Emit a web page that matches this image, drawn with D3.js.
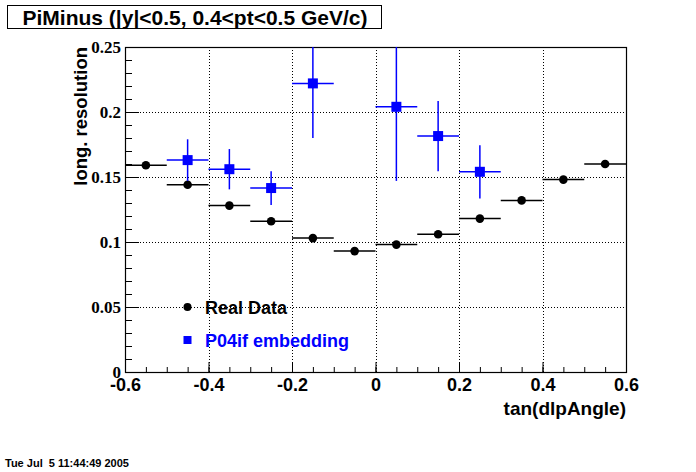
<!DOCTYPE html>
<html><head><meta charset="utf-8">
<script src="https://cdn.jsdelivr.net/npm/d3@7"></script>
<style>body{margin:0;background:#fff}svg{display:block}</style>
</head><body><svg id="c" width="696" height="472"></svg>
<script>
const binCenters = [-0.55,-0.45,-0.35,-0.25,-0.15,-0.05,0.05,0.15,0.25,0.35,0.45,0.55];
const binHalfWidth = 0.05;
const realValues = [0.159,0.144,0.128,0.116,0.103,0.093,0.098,0.106,0.118,0.132,0.148,0.160];
const realErrors = [0.002,0.002,0.002,0.002,0.002,0.0015,0.0015,0.002,0.002,0.002,0.002,0.002];
const embCenters = [-0.45,-0.35,-0.25,-0.15,0.05,0.15,0.25];
const embValues = [0.163,0.156,0.1415,0.222,0.204,0.1815,0.154];
const embErrors = [0.016,0.0155,0.013,0.042,0.057,0.027,0.0205];
const xTicks = [-0.6,-0.4,-0.2,0,0.2,0.4,0.6];
const xTickLabels = ["-0.6","-0.4","-0.2","0","0.2","0.4","0.6"];
const yTicks = [0,0.05,0.1,0.15,0.2,0.25];
const yTickLabels = ["0","0.05","0.1","0.15","0.2","0.25"];
const titleText = "PiMinus (|y|<0.5, 0.4<pt<0.5 GeV/c)";
const xTitle = "tan(dlpAngle)";
const yTitle = "long. resolution";
const legendLabels = ["Real Data","P04if embedding"];
const dateText = "Tue Jul  5 11:44:49 2005";

const svg = d3.select("#c");
const X0=125, X1=626, Y0=47, Y1=372;
const x = d3.scaleLinear().domain([-0.6,0.6]).range([X0,X1]);
const y = d3.scaleLinear().domain([0,0.25]).range([Y1,Y0]);
const sans = "'Liberation Sans', Arial, Helvetica, sans-serif";
const serif = "'Liberation Serif', 'Times New Roman', serif";

// title box
svg.append("rect").attr("x",7.5).attr("y",5.5).attr("width",374).attr("height",23)
  .attr("fill","#fff").attr("stroke","#000").attr("stroke-width",1);
svg.append("text").attr("x",195).attr("y",24.5).attr("text-anchor","middle")
  .attr("font-family",sans).attr("font-weight","bold").attr("font-size",21).text(titleText);

// grid
const grid = svg.append("g").attr("stroke","#000").attr("stroke-width",1).attr("stroke-dasharray","1,2");
[-0.4,-0.2,0,0.2,0.4].forEach(v=>grid.append("line").attr("x1",Math.round(x(v))+0.5).attr("x2",Math.round(x(v))+0.5).attr("y1",Y0).attr("y2",Y1));
[0.05,0.1,0.15,0.2].forEach(v=>grid.append("line").attr("x1",X0).attr("x2",X1).attr("y1",Math.round(y(v))+0.5).attr("y2",Math.round(y(v))+0.5));

// axes via d3 axis (ticks inside)
const xMinor = d3.range(-12,13).map(i=>i*0.05);
const xAxisMinor = d3.axisBottom(x).tickValues(xMinor).tickSize(-5).tickFormat("");
const xAxisMajor = d3.axisBottom(x).tickValues(xTicks).tickSize(-10)
  .tickFormat((d,i)=>xTickLabels[i]);
const gxm = svg.append("g").attr("transform",`translate(0,${Y1})`).call(xAxisMinor);
const gx = svg.append("g").attr("transform",`translate(0,${Y1})`).call(xAxisMajor);
[gxm,gx].forEach(g=>{g.select(".domain").remove(); g.selectAll("line").attr("stroke","#000");});
gx.selectAll("text").attr("font-family",sans).attr("font-weight","bold").attr("font-size",18).attr("fill","#000")
  .attr("dy",null).attr("y",19);

const yMinor = d3.range(0,26).map(i=>i*0.01);
const yAxisMinor = d3.axisLeft(y).tickValues(yMinor).tickSize(-7).tickFormat("");
const yAxisMajor = d3.axisLeft(y).tickValues(yTicks).tickSize(-14)
  .tickFormat((d,i)=>yTickLabels[i]);
const gym = svg.append("g").attr("transform",`translate(${X0},0)`).call(yAxisMinor);
const gy = svg.append("g").attr("transform",`translate(${X0},0)`).call(yAxisMajor);
[gym,gy].forEach(g=>{g.select(".domain").remove(); g.selectAll("line").attr("stroke","#000");});
gy.selectAll("text").attr("font-family",serif).attr("font-weight","bold").attr("font-size",17).attr("fill","#000")
  .attr("x",-4).attr("dy","0.32em");

// frame
svg.append("rect").attr("x",X0+0.5).attr("y",Y0+0.5).attr("width",X1-X0).attr("height",Y1-Y0)
  .attr("fill","none").attr("stroke","#000").attr("stroke-width",1.2);

// axis titles
svg.append("text").attr("x",X1).attr("y",415).attr("text-anchor","end")
  .attr("font-family",sans).attr("font-weight","bold").attr("font-size",19).text(xTitle);
svg.append("text").attr("transform",`translate(87,${Y0}) rotate(-90)`).attr("text-anchor","end")
  .attr("font-family",sans).attr("font-weight","bold").attr("font-size",18.5).text(yTitle);

// data
svg.append("clipPath").attr("id","clp").append("rect").attr("x",X0).attr("y",Y0).attr("width",X1-X0).attr("height",Y1-Y0);
const pg = svg.append("g").attr("clip-path","url(#clp)");
const real = pg.append("g");
binCenters.forEach((c,i)=>{
  const v=realValues[i], e=realErrors[i];
  real.append("line").attr("x1",x(c-binHalfWidth)).attr("x2",x(c+binHalfWidth)).attr("y1",y(v)).attr("y2",y(v)).attr("stroke","#000").attr("stroke-width",1.5);
  real.append("line").attr("x1",x(c)).attr("x2",x(c)).attr("y1",y(v-e)).attr("y2",y(v+e)).attr("stroke","#000").attr("stroke-width",1.5);
  real.append("circle").attr("cx",x(c)).attr("cy",y(v)).attr("r",4.3).attr("fill","#000");
});
const emb = pg.append("g");
embCenters.forEach((c,i)=>{
  const v=embValues[i], e=embErrors[i];
  emb.append("line").attr("x1",x(c-binHalfWidth)).attr("x2",x(c+binHalfWidth)).attr("y1",y(v)).attr("y2",y(v)).attr("stroke","#0000ff").attr("stroke-width",1.5);
  emb.append("line").attr("x1",x(c)).attr("x2",x(c)).attr("y1",y(v-e)).attr("y2",y(v+e)).attr("stroke","#0000ff").attr("stroke-width",1.5);
  emb.append("rect").attr("x",x(c)-5).attr("y",y(v)-5).attr("width",10).attr("height",10).attr("fill","#0000ff");
});

// legend
const lg = svg.append("g");
lg.append("circle").attr("cx",187.5).attr("cy",307).attr("r",4).attr("fill","#000");
lg.append("text").attr("x",205).attr("y",313.5).attr("font-family",sans).attr("font-weight","bold").attr("font-size",18).attr("fill","#000").text(legendLabels[0]);
lg.append("rect").attr("x",183.5).attr("y",336).attr("width",8).attr("height",8).attr("fill","#0000ff");
lg.append("text").attr("x",205).attr("y",346.5).attr("font-family",sans).attr("font-weight","bold").attr("font-size",18).attr("fill","#0000ff").text(legendLabels[1]);

// date
svg.append("text").attr("x",5).attr("y",467).attr("font-family",sans).attr("font-weight","bold").attr("font-size",11).style("white-space","pre").text(dateText);
</script></body></html>
